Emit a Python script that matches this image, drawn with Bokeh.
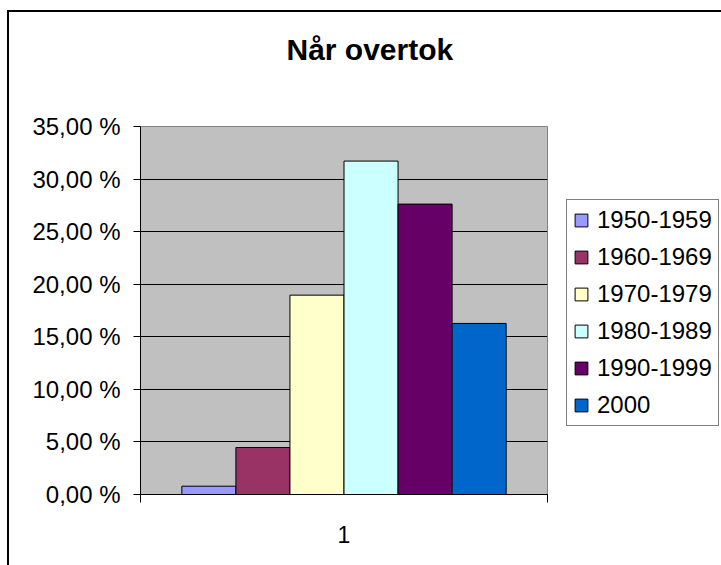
from bokeh.plotting import figure
from bokeh.models import (ColumnDataSource, Legend, LegendItem, FixedTicker,
                          Range1d, Title)
from bokeh.layouts import row
from bokeh.embed import file_html
from bokeh.resources import INLINE

# ---- data ----
series = ["1950-1959", "1960-1969", "1970-1979", "1980-1989", "1990-1999", "2000"]
values = [0.79, 4.47, 18.96, 31.71, 27.62, 16.27]   # percent
colors = ["#9999FF", "#993366", "#FFFFCC", "#CCFFFF", "#660066", "#0066CC"]
category = "1"
y_ticks = [0, 5, 10, 15, 20, 25, 30, 35]
y_tick_labels = ["0,00 %", "5,00 %", "10,00 %", "15,00 %", "20,00 %",
                 "25,00 %", "30,00 %", "35,00 %"]

FONT = "Liberation Sans"
bar_w = 0.1328
n = len(series)

# ---- main chart ----
p = figure(width=555, height=565, output_backend="svg", toolbar_location=None,
           x_range=Range1d(0, 1), y_range=Range1d(0, 35),
           min_border_left=140, min_border_right=8,
           min_border_top=126, min_border_bottom=71,
           title="Når overtok")

# spacer between frame and title (pushes the title upward)
p.add_layout(Title(text=" ", text_font_size="1px", standoff=58), "above")

p.title.align = "left"
p.title.text_font = FONT
p.title.text_font_size = "30px"
p.title.text_font_style = "bold"
p.title.text_color = "black"
p.title.offset = 146
p.title.standoff = 0

p.background_fill_color = "#C0C0C0"
p.border_fill_alpha = 0
p.outline_line_color = "#808080"
p.outline_line_width = 1

sources = []
for i, (s, v, c) in enumerate(zip(series, values, colors)):
    xc = 0.5 + (i - (n - 1) / 2) * bar_w
    src = ColumnDataSource(dict(x=[xc], top=[v]))
    sources.append(src)
    p.vbar(x="x", top="top", bottom=0, width=bar_w, source=src,
           fill_color=c, line_color="black", line_width=1)

# y axis
p.yaxis.ticker = FixedTicker(ticks=y_ticks, minor_ticks=[])
p.yaxis.major_label_overrides = {t: l for t, l in zip(y_ticks, y_tick_labels)}
p.yaxis.major_label_text_font = FONT
p.yaxis.major_label_text_font_size = "24px"
p.yaxis.major_label_text_color = "black"
p.yaxis.major_tick_out = 7
p.yaxis.major_tick_in = 0
p.yaxis.major_label_standoff = 13
p.yaxis.axis_line_color = "black"
p.yaxis.major_tick_line_color = "black"

# x axis: one category label in the middle, ticks at category boundaries
p.xaxis.ticker = FixedTicker(ticks=[0.5], minor_ticks=[0, 1])
p.xaxis.major_label_overrides = {0.5: category}
p.xaxis.major_tick_out = 0
p.xaxis.major_tick_in = 0
p.xaxis.minor_tick_out = 8
p.xaxis.minor_tick_in = 0
p.xaxis.minor_tick_line_color = "black"
p.xaxis.major_label_text_font = FONT
p.xaxis.major_label_text_font_size = "23px"
p.xaxis.major_label_text_color = "black"
p.xaxis.major_label_standoff = 23
p.xaxis.axis_line_color = "black"

p.xgrid.grid_line_color = None
p.ygrid.grid_line_color = "black"
p.ygrid.grid_line_width = 1

# ---- legend panel (separate canvas so the legend is not clipped) ----
pl = figure(width=166, height=565, output_backend="svg", toolbar_location=None,
            x_axis_type=None, y_axis_type=None,
            min_border=0, outline_line_color=None)
pl.background_fill_alpha = 0
pl.border_fill_alpha = 0
pl.grid.grid_line_color = None

items = []
for s, c, src in zip(series, colors, sources):
    r = pl.vbar(x="x", top="top", bottom=0, width=bar_w, source=src,
                fill_color=c, line_color="black", line_width=1, visible=False)
    items.append(LegendItem(label=s, renderers=[r]))

legend = Legend(items=items, location=(11, 68), margin=0, padding=6,
                spacing=9, glyph_width=16, glyph_height=16,
                label_height=21, label_standoff=8,
                label_text_font=FONT, label_text_font_size="24px",
                label_text_color="black",
                inactive_fill_alpha=0,
                border_line_color="black", border_line_width=1,
                background_fill_color="white", background_fill_alpha=1)
pl.add_layout(legend)

layout = row(p, pl)
# outer chart border (left and top edges visible in the crop)
layout.styles = {
    "background-color": "white",
    "background-image": "linear-gradient(black, black), linear-gradient(black, black)",
    "background-size": "2px 100%, 100% 2px",
    "background-position": "7px 10px, 7px 10px",
    "background-repeat": "no-repeat",
}

open("out.html", "w").write(file_html(layout, INLINE))
